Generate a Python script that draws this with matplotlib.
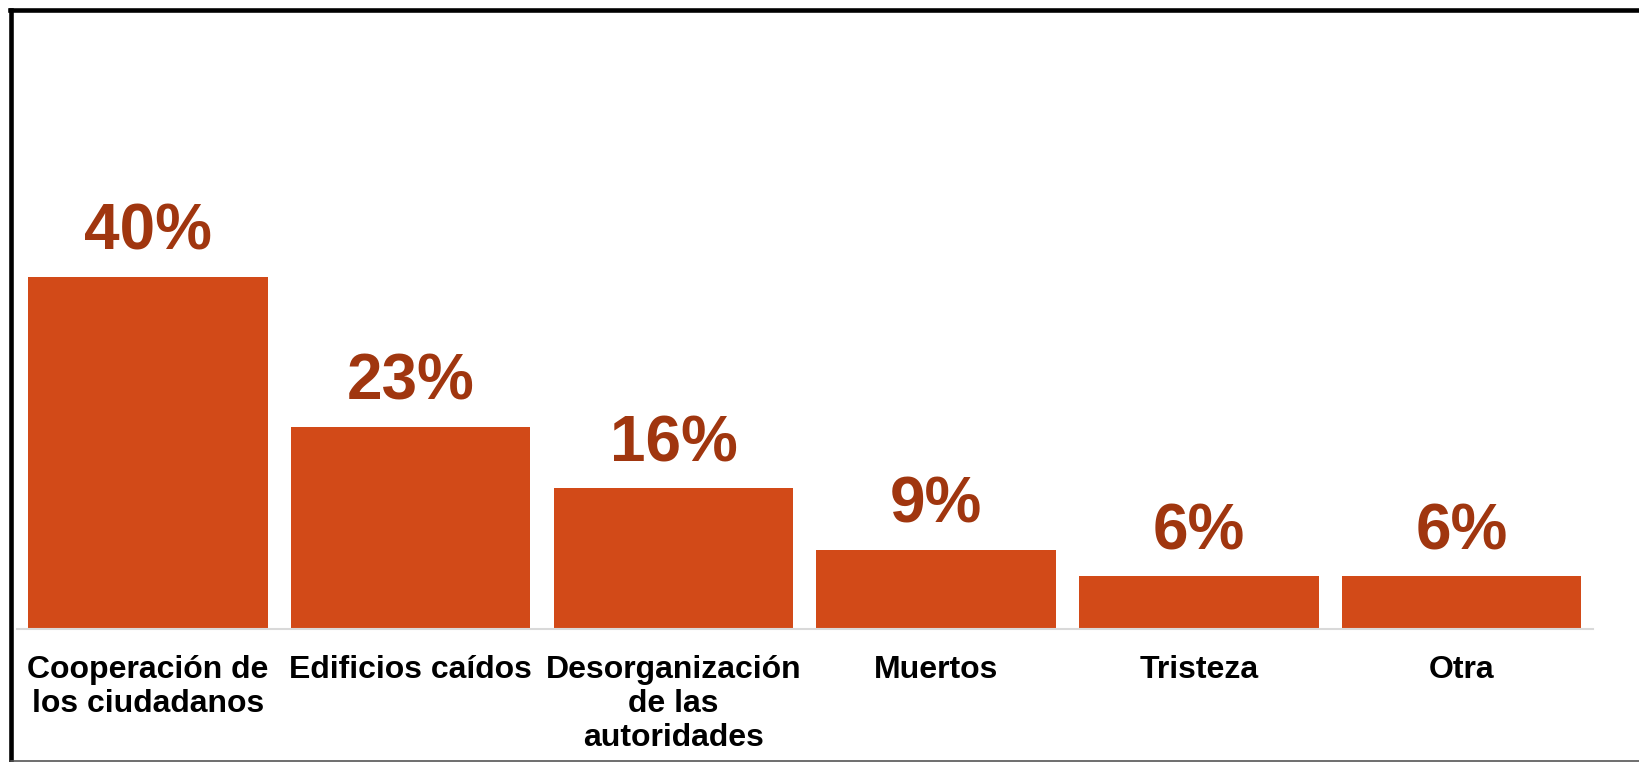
import matplotlib.pyplot as plt
from matplotlib.lines import Line2D

# Datos del grafico
categorias = ['Cooperación de\nlos ciudadanos', 'Edificios caídos',
              'Desorganización\nde las\nautoridades', 'Muertos', 'Tristeza', 'Otra']
valores = [40, 23, 16, 9, 6, 6]
etiquetas = ['40%', '23%', '16%', '9%', '6%', '6%']

plt.rcParams['font.family'] = ['Liberation Sans', 'DejaVu Sans']

fig = plt.figure(figsize=(16.39, 7.62), dpi=100)
ax = fig.add_axes([0.01013, 0.1745, 0.9618, 0.773])

x = range(len(categorias))
ax.bar(x, valores, width=0.911, color='#D24A18')

# Etiquetas de valor sobre cada barra
for i, v in enumerate(valores):
    ax.annotate(etiquetas[i], (i, v), xytext=(0, 10), textcoords='offset points',
                ha='center', va='bottom', fontsize=46, fontweight='bold',
                color='#A0360F')

ax.set_xlim(-0.5, len(categorias) - 0.5)
ax.set_ylim(0, 66.9)
ax.set_xticks(list(x))
ax.set_xticklabels(categorias, fontsize=23, fontweight='bold', linespacing=1.17)
ax.tick_params(axis='x', length=0, pad=19)
ax.set_yticks([])
for s in ['top', 'right', 'left']:
    ax.spines[s].set_visible(False)
ax.spines['bottom'].set_color('#D9D9D9')
ax.spines['bottom'].set_linewidth(1.5)

# Marco del recorte
W, H = 1639, 762
fig.add_artist(Line2D([9.5 / W, 1], [1 - 9.5 / H, 1 - 9.5 / H], color='black', lw=3.3))
fig.add_artist(Line2D([11 / W, 11 / W], [0, 1 - 9.5 / H], color='black', lw=3.3))
fig.add_artist(Line2D([11 / W, 1], [1.5 / H, 1.5 / H], color='#555555', lw=1.2))

fig.savefig('out.png', dpi=100)
